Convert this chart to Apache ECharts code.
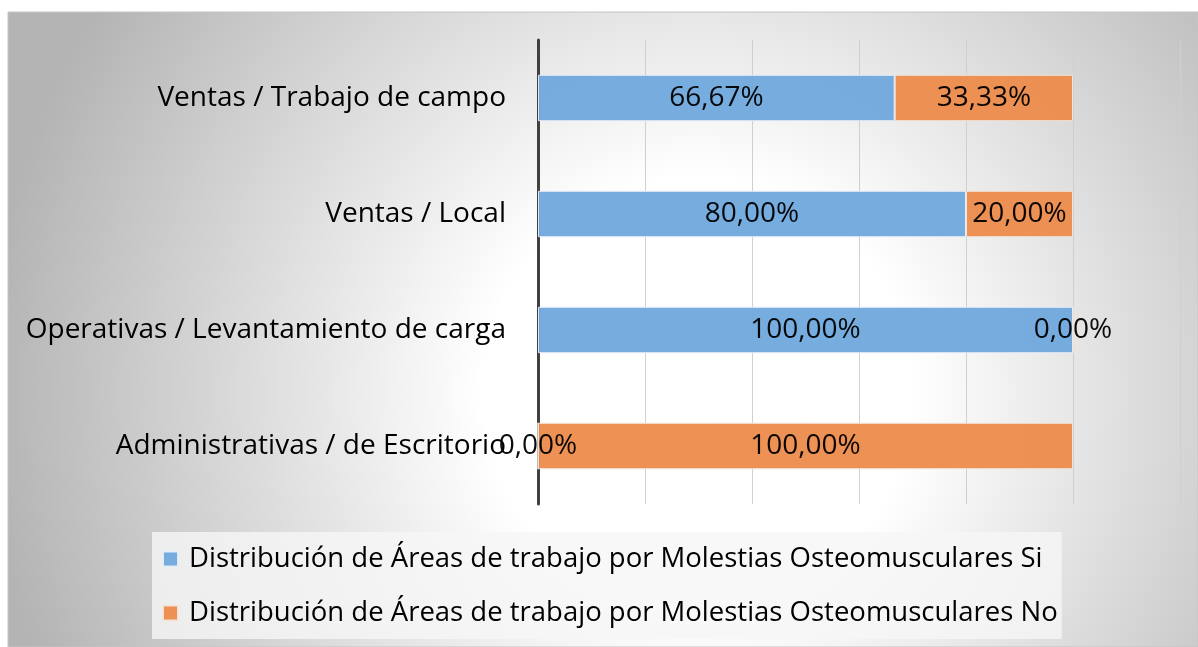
<!DOCTYPE html>
<html>
<head>
<meta charset="utf-8">
<script src="https://cdn.jsdelivr.net/npm/echarts@6/dist/echarts.min.js"></script>
<style>
  html, body { margin: 0; padding: 0; background: #ffffff; }
  #chart { width: 1198px; height: 647px; }
</style>
</head>
<body>
<div id="chart"></div>
<script>
  // categories, bottom to top
  var areas = [
    'Administrativas / de Escritorio',
    'Operativas / Levantamiento de carga',
    'Ventas / Local',
    'Ventas / Trabajo de campo'
  ];
  var valoresSi = [0, 100, 80, 66.67];
  var valoresNo = [100, 0, 20, 33.33];
  var nombreSi = 'Distribución de Áreas de trabajo por Molestias Osteomusculares Si';
  var nombreNo = 'Distribución de Áreas de trabajo por Molestias Osteomusculares No';

  var fuente = '"Open Sans", "Noto Sans", sans-serif';

  function pct(p) {
    return p.value.toFixed(2).replace('.', ',') + '%';
  }

  var chart = echarts.init(document.getElementById('chart'));
  var option = {
    backgroundColor: '#ffffff',
    textStyle: { fontFamily: fuente },
    graphic: [{
      type: 'rect',
      z: -10,
      silent: true,
      shape: { x: 8, y: 12, width: 1190, height: 635 },
      style: {
        fill: {
          type: 'radial', x: 0.58, y: 0.6, r: 1.12,
          colorStops: [
            { offset: 0, color: '#ffffff' },
            { offset: 0.3, color: '#ffffff' },
            { offset: 1, color: '#b4b4b4' }
          ]
        },
        stroke: '#c4c4c4',
        lineWidth: 1
      }
    }],
    grid: { left: 538, right: 18, top: 40, bottom: 143 },
    legend: {
      orient: 'vertical',
      left: 152,
      top: 532,
      padding: [12, 4, 11, 10],
      itemGap: 24,
      itemWidth: 15,
      itemHeight: 15,
      icon: 'rect',
      backgroundColor: 'rgba(246,246,246,0.8)',
      textStyle: { fontSize: 27.5, color: '#000000', lineHeight: 30, padding: [0, 0, 0, 6] },
      data: [nombreSi, nombreNo]
    },
    xAxis: {
      type: 'value',
      min: 0,
      max: 120,
      interval: 20,
      axisLabel: { show: false },
      axisTick: { show: false },
      axisLine: { show: false },
      splitLine: { lineStyle: { color: '#cfcfcf', width: 1 } }
    },
    yAxis: {
      type: 'category',
      data: areas,
      axisTick: { show: false },
      axisLine: { lineStyle: { color: '#404040', width: 3 } },
      axisLabel: { fontSize: 28, color: '#000000', margin: 32 }
    },
    series: [
      {
        name: nombreSi,
        type: 'bar',
        stack: 'total',
        barWidth: '40%',
        data: valoresSi,
        itemStyle: { color: '#6fa8dc', opacity: 0.95, borderColor: '#e8eef5', borderWidth: 1 },
        label: { show: true, position: 'inside', color: '#000000', fontSize: 28, formatter: pct }
      },
      {
        name: nombreNo,
        type: 'bar',
        stack: 'total',
        data: valoresNo,
        itemStyle: { color: '#ed8b4c', opacity: 0.95, borderColor: '#f3e6dc', borderWidth: 1 },
        label: { show: true, position: 'inside', color: '#000000', fontSize: 28, formatter: pct }
      }
    ]
  };
  chart.setOption(option);
  window.addEventListener('resize', function () {
    chart.resize();
  });
</script>
</body>
</html>
